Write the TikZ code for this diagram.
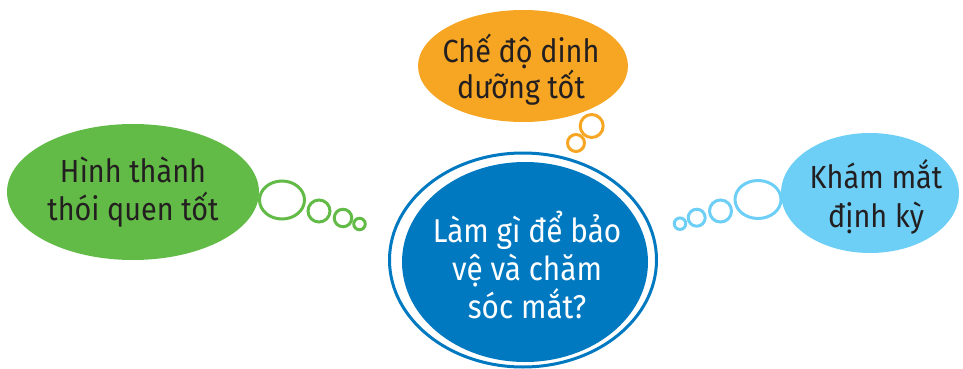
\documentclass[tikz,border=0pt]{standalone}
\usepackage{fontspec}
\setmainfont[FakeStretch=0.9]{Fira Sans}
\usetikzlibrary{shapes.geometric}
\definecolor{cgreen}{HTML}{62BB46}
\definecolor{corange}{HTML}{F6A623}
\definecolor{cblue}{HTML}{0079C1}
\definecolor{clight}{HTML}{6DCFF6}
\definecolor{ctext}{HTML}{231F20}
\begin{document}
\begin{tikzpicture}[x=1pt,y=-1pt,
  blob/.style={ellipse, inner sep=0pt, draw=none},
  bub/.style={ellipse, inner sep=0pt, line width=3pt, fill=none},
  lbl/.style={anchor=base, inner sep=0pt, font=\fontsize{32}{38}\selectfont, text=ctext},
  wlbl/.style={lbl, text=white, font=\fontsize{33}{38}\selectfont}]
\useasboundingbox (0,0) rectangle (963,369);
% bubbles
\node[bub, draw=cgreen, minimum width=45pt, minimum height=38pt] (g1) at (282,200) {};
\node[bub, draw=cgreen, minimum width=22pt, minimum height=22pt] (g2) at (319,211) {};
\node[bub, draw=cgreen, minimum width=17.5pt, minimum height=17.5pt] (g3) at (343,218) {};
\node[bub, draw=cgreen, minimum width=11.5pt, minimum height=11.5pt] (g4) at (359.5,224) {};
\node[bub, draw=clight, minimum width=46pt, minimum height=38pt] (l1) at (758,199.5) {};
\node[bub, draw=clight, minimum width=22pt, minimum height=22pt] (l2) at (720.5,211) {};
\node[bub, draw=clight, minimum width=17pt, minimum height=17pt] (l3) at (696.7,217.7) {};
\node[bub, draw=clight, minimum width=11.5pt, minimum height=11.5pt] (l4) at (680,223.7) {};
\node[bub, draw=corange, minimum width=23pt, minimum height=23pt] (o1) at (591.7,126) {};
\node[bub, draw=corange, minimum width=17pt, minimum height=17pt] (o2) at (576,143) {};
% thought clouds
\node[blob, fill=cgreen, minimum width=252pt, minimum height=136pt] (green) at (133,192) {};
\node[blob, fill=corange, minimum width=210pt, minimum height=112pt] (orange) at (523,66) {};
\node[blob, fill=clight, minimum width=178pt, minimum height=120pt] (light) at (870,193) {};
% centre
\node[ellipse, inner sep=0pt, draw=cblue, line width=3pt, minimum width=267pt, minimum height=214pt] (ring) at (523,260) {};
\node[blob, fill=cblue, minimum width=246pt, minimum height=200pt] (centre) at (525,262) {};
% texts
\node[lbl] (gt1) at (133,182) {Hình thành};
\node[lbl] (gt2) at (133,220) {thói quen tốt};
\node[lbl] (ot1) at (521,63) {Chế độ dinh};
\node[lbl] (ot2) at (521,98) {dưỡng tốt};
\node[lbl] (lt1) at (876,188) {Khám mắt};
\node[lbl] (lt2) at (876,227) {định kỳ};
\node[wlbl] (ct1) at (527,242) {Làm gì để bảo};
\node[wlbl] (ct2) at (527,280) {vệ và chăm};
\node[wlbl] (ct3) at (527,318) {sóc mắt?};
\end{tikzpicture}
\end{document}
